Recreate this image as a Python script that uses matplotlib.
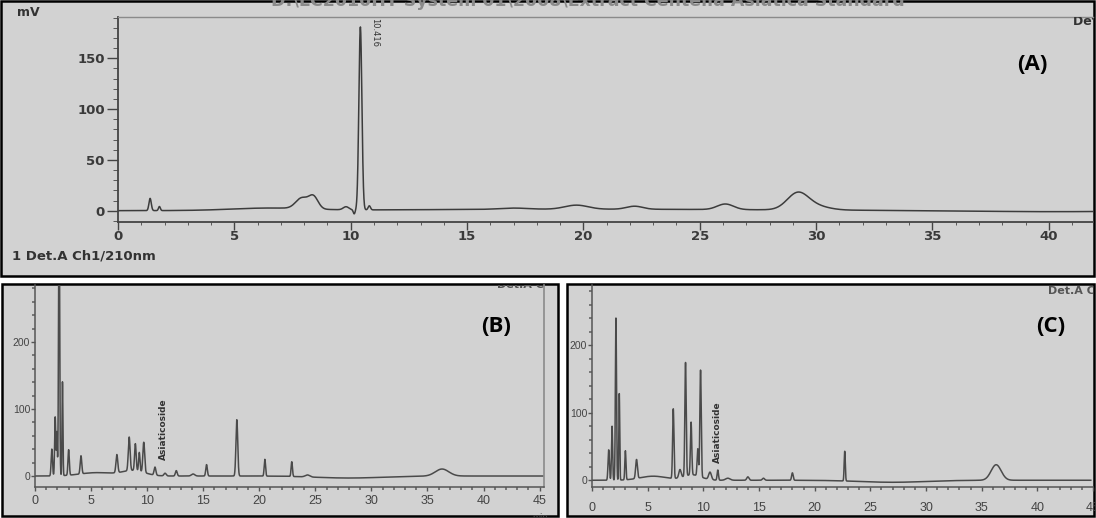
import numpy as np
import matplotlib
matplotlib.use("Agg")
import matplotlib.pyplot as plt
from matplotlib.patches import Rectangle
from matplotlib.ticker import MultipleLocator

# ---------------- data (peak retention time [min], height [mV], width sigma [min]) -------------
a_times = [1.38, 1.78, 6.5, 7.9, 8.4, 9.8, 10.15, 10.416, 10.8, 17.0, 19.7, 22.2, 26.1, 29.2, 29.9, 20.0, 40.0]
a_heights = [12, 4, 2.3, 10.5, 12, 3, -4, 180, 4, 1.2, 4.0, 3.0, 5.5, 15.5, 4.0, 1.5, -1.0]
a_sigmas = [0.05, 0.04, 1.6, 0.26, 0.2, 0.12, 0.04, 0.065, 0.05, 0.6, 0.5, 0.35, 0.35, 0.45, 0.6, 8.0, 3.0]
a_xticks = [0, 5, 10, 15, 20, 25, 30, 35, 40]
a_yticks = [0, 50, 100, 150]
a_peak_label = "10.416"

b_times = [1.5, 1.8, 1.95, 2.15, 2.45, 3.0, 4.1, 5.5, 7.3, 8.4, 8.95, 9.3, 9.7, 8.8, 10.7, 11.6, 12.6,
           14.1, 15.3, 18.0, 20.5, 22.9, 24.3, 28.0, 36.3]
b_heights = [40, 88, 65, 420, 140, 38, 27, 5, 27, 50, 40, 28, 45, 8, 12, 4, 8,
             3, 17, 84, 25, 22, 3, -3, 10.5]
b_sigmas = [0.06, 0.05, 0.04, 0.05, 0.04, 0.06, 0.07, 1.5, 0.08, 0.08, 0.07, 0.06, 0.08, 1.0, 0.08, 0.1, 0.08,
            0.15, 0.07, 0.08, 0.06, 0.06, 0.2, 3.0, 0.6]
b_xticks = [0, 5, 10, 15, 20, 25, 30, 35, 40, 45]
b_yticks = [0, 100, 200]

c_times = [1.5, 1.8, 2.15, 2.45, 3.0, 4.0, 5.5, 7.3, 7.9, 8.4, 8.9, 9.0, 9.5, 9.75, 10.6, 11.3, 12.2,
           14.0, 15.4, 18.0, 22.7, 27.0, 36.3]
c_heights = [45, 80, 240, 128, 43, 28, 6, 103, 12, 168, 78, 8, 40, 158, 11, 15, 3,
             5, 3, 11, 44, -3, 23]
c_sigmas = [0.06, 0.05, 0.05, 0.04, 0.05, 0.08, 1.2, 0.06, 0.1, 0.06, 0.06, 0.8, 0.06, 0.06, 0.12, 0.06, 0.2,
            0.1, 0.1, 0.07, 0.05, 3.0, 0.45]
c_xticks = [0, 5, 10, 15, 20, 25, 30, 35, 40, 45]
c_yticks = [0, 100, 200]

compound_label = "Asiaticoside"

W, H = 1096, 518
fig = plt.figure(figsize=(W / 100, H / 100), dpi=100)
fig.patch.set_facecolor("white")

PANEL_BG = "#d2d2d2"


def fig_rect(l, t, r, b):
    return [l / W, 1 - b / H, (r - l) / W, (b - t) / H]


def add_box(l, t, r, b):
    x, y, w, h = fig_rect(l, t, r, b)
    fig.patches.append(Rectangle((x, y), w, h, transform=fig.transFigure,
                                 facecolor=PANEL_BG, edgecolor="black", lw=1.8, zorder=-5))


def trace(t, times, heights, sigmas):
    y = np.zeros_like(t)
    for tc, hh, ss in zip(times, heights, sigmas):
        y += hh * np.exp(-0.5 * ((t - tc) / ss) ** 2)
    return y


add_box(1, 1, 1094, 276)
add_box(2, 284, 558, 516)
add_box(567, 284, 1094, 516)

BOLD_FONT = "DejaVu Sans"
LABEL_FONT = ["Open Sans", "DejaVu Sans"]

# ---------------- panel A ----------------
axA = fig.add_axes(fig_rect(118, 17, 1093, 222))
axA.patch.set_alpha(0)
tA = np.linspace(0, 42, 8000)
axA.plot(tA, trace(tA, a_times, a_heights, a_sigmas), color="#3c3c3c", lw=1.1)
axA.set_xlim(0, 41.9)
axA.set_ylim(-11.1, 190.6)
axA.spines["right"].set_visible(False)
axA.spines["top"].set_color("#8a8a8a")
axA.spines["top"].set_linewidth(1.0)
for s in ("left", "bottom"):
    axA.spines[s].set_color("#444444")
    axA.spines[s].set_linewidth(1.3)
axA.set_xticks(a_xticks)
axA.set_yticks(a_yticks)
axA.xaxis.set_minor_locator(MultipleLocator(1))
axA.yaxis.set_minor_locator(MultipleLocator(10))
axA.tick_params(axis="both", which="major", direction="out", color="#444444", width=1.0,
                labelsize=9.5, labelcolor="#3a3a3a")
axA.tick_params(axis="x", which="major", length=5.5, pad=0.5)
axA.tick_params(axis="y", which="major", length=8, pad=1.5)
axA.tick_params(axis="x", which="minor", length=2.5, color="#444444")
axA.tick_params(axis="y", which="minor", length=3.5, color="#444444")
for lab in axA.get_xticklabels() + axA.get_yticklabels():
    lab.set_fontweight("bold")
    lab.set_family(BOLD_FONT)
axA.text(10.416 + 0.6, 190, a_peak_label, rotation=270, ha="center", va="top",
         fontsize=6, color="#333333", family="DejaVu Sans")
axA.text(41.05, 185.7, "Det.A Ch1", ha="left", va="center", fontsize=9, fontweight="bold",
         color="#333333", clip_on=True, family=BOLD_FONT)

fig.text(28 / W, 1 - 12 / H, "mV", ha="center", va="center", fontsize=9, fontweight="bold",
         color="#333333", family=BOLD_FONT)
fig.text(12 / W, 1 - 256 / H, "1 Det.A Ch1/210nm", ha="left", va="center", fontsize=9.5,
         fontweight="bold", color="#333333", family=BOLD_FONT)
fig.text(588 / W, 1 - 1 / H, "D:\\LC2010HT System 01\\2008\\Extract Centella Asiatica Standard",
         ha="center", va="center", fontsize=12.5, fontweight="bold", color="#8a8a8a",
         family=BOLD_FONT)
fig.text(1032 / W, 1 - 65 / H, "(A)", ha="center", va="center", fontsize=16, fontweight="bold",
         color="black", family=LABEL_FONT)

# ---------------- panel B ----------------
axB = fig.add_axes(fig_rect(35, 285, 543.5, 487))
axB.patch.set_alpha(0)
tB = np.linspace(0, 45.3, 9000)
axB.plot(tB, trace(tB, b_times, b_heights, b_sigmas), color="#4a4a4a", lw=1.1)
axB.set_xlim(0, 45.35)
axB.set_ylim(-16.4, 285)
axB.spines["top"].set_visible(False)
for s in ("left", "bottom"):
    axB.spines[s].set_color("#555555")
    axB.spines[s].set_linewidth(1.1)
axB.spines["right"].set_color("#8a8a8a")
axB.spines["right"].set_linewidth(1.2)
axB.set_xticks(b_xticks)
axB.set_yticks(b_yticks)
axB.xaxis.set_minor_locator(MultipleLocator(1))
axB.yaxis.set_minor_locator(MultipleLocator(20))
axB.tick_params(axis="both", which="major", direction="out", length=3, width=1, color="#555555",
                labelsize=9, labelcolor="#444444")
axB.tick_params(axis="x", which="major", pad=3)
axB.tick_params(axis="y", which="major", pad=0.5, labelsize=7.5)
axB.tick_params(axis="both", which="minor", direction="out", length=2, width=1.2, color="#666666")
for lab in axB.get_xticklabels() + axB.get_yticklabels():
    lab.set_family("Liberation Sans")
axB.text(11.5, 24, compound_label, rotation=90, ha="center", va="bottom", fontsize=6.5,
         fontweight="bold", color="#333333", family="DejaVu Sans")
axB.text(41.2, 285, "Det.A Ch1", ha="left", va="center", fontsize=8, fontweight="bold",
         color="#555555", clip_on=True, family=BOLD_FONT)
fig.text(540 / W, 1 - 518 / H, "min", ha="center", va="center", fontsize=7, color="#444444",
         family="Liberation Sans")
fig.text(496 / W, 1 - 326 / H, "(B)", ha="center", va="center", fontsize=16, fontweight="bold",
         color="black", family=LABEL_FONT)

# ---------------- panel C ----------------
axC = fig.add_axes(fig_rect(592, 285, 1093, 487))
axC.patch.set_alpha(0)
tC = np.linspace(0, 44.8, 9000)
axC.plot(tC, trace(tC, c_times, c_heights, c_sigmas), color="#4a4a4a", lw=1.1)
axC.set_xlim(0, 44.75)
axC.set_ylim(-10, 289)
axC.spines["top"].set_visible(False)
axC.spines["right"].set_visible(False)
for s in ("left", "bottom"):
    axC.spines[s].set_color("#555555")
    axC.spines[s].set_linewidth(1.1)
axC.set_xticks(c_xticks)
axC.set_yticks(c_yticks)
axC.xaxis.set_minor_locator(MultipleLocator(1))
axC.yaxis.set_minor_locator(MultipleLocator(20))
axC.tick_params(axis="both", which="major", direction="out", length=3, width=1, color="#555555",
                labelsize=9, labelcolor="#444444")
axC.tick_params(axis="x", which="major", pad=8)
axC.tick_params(axis="y", which="major", pad=0.5, labelsize=7.5)
axC.tick_params(axis="both", which="minor", direction="out", length=2, width=1.2, color="#666666")
for lab in axC.get_xticklabels() + axC.get_yticklabels():
    lab.set_family("Liberation Sans")
axC.text(11.3, 25.6, compound_label, rotation=90, ha="center", va="bottom", fontsize=6.5,
         fontweight="bold", color="#333333", family="DejaVu Sans")
axC.text(41.0, 280, "Det.A Ch1", ha="left", va="center", fontsize=8, fontweight="bold",
         color="#555555", clip_on=True, family=BOLD_FONT)
fig.text(1051 / W, 1 - 327 / H, "(C)", ha="center", va="center", fontsize=16, fontweight="bold",
         color="black", family=LABEL_FONT)

fig.savefig("out.png", dpi=100, facecolor="white")
